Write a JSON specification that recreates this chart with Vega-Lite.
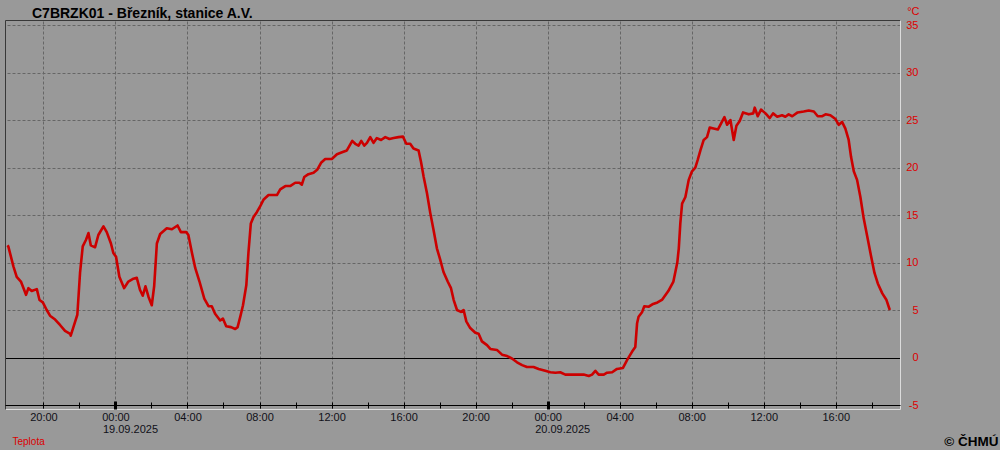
{
 "$schema": "https://vega.github.io/schema/vega-lite/v6.json",
 "width": 895,
 "height": 389,
 "autosize": {"type": "none"},
 "padding": {"left": 5, "top": 20, "right": 100, "bottom": 41},
 "background": "#999999",
 "config": {"view": {"stroke": null}, "font": "Liberation Sans"},
 "title": {"text": "C7BRZK01 - Březník, stanice A.V.", "anchor": "start", "frame": "group", "dx": 27, "offset": -27, "baseline": "alphabetic", "font": "Liberation Sans", "fontSize": 14, "fontWeight": "bold", "color": "#000000"},
 "data": {"values": [
  {"t":"2025-09-18T18:00:00Z","v":11.8},{"t":"2025-09-18T18:03:00Z","v":11.7},{"t":"2025-09-18T18:20:00Z","v":9.6},{"t":"2025-09-18T18:31:00Z","v":8.5},{"t":"2025-09-18T18:45:00Z","v":8.0},{"t":"2025-09-18T18:56:00Z","v":7.1},{"t":"2025-09-18T19:02:00Z","v":6.6},{"t":"2025-09-18T19:10:00Z","v":7.3},{"t":"2025-09-18T19:21:00Z","v":7.0},{"t":"2025-09-18T19:38:00Z","v":7.2},{"t":"2025-09-18T19:47:00Z","v":6.05},{"t":"2025-09-18T19:58:00Z","v":5.8},{"t":"2025-09-18T20:11:00Z","v":5.0},{"t":"2025-09-18T20:22:00Z","v":4.4},{"t":"2025-09-18T20:39:00Z","v":4.0},{"t":"2025-09-18T20:56:00Z","v":3.4},{"t":"2025-09-18T21:12:00Z","v":2.8},{"t":"2025-09-18T21:29:00Z","v":2.5},{"t":"2025-09-18T21:31:00Z","v":2.3},{"t":"2025-09-18T21:46:00Z","v":3.8},{"t":"2025-09-18T21:53:00Z","v":4.5},{"t":"2025-09-18T22:02:00Z","v":8.9},{"t":"2025-09-18T22:11:00Z","v":11.7},{"t":"2025-09-18T22:22:00Z","v":12.4},{"t":"2025-09-18T22:30:00Z","v":13.1},{"t":"2025-09-18T22:38:00Z","v":11.8},{"t":"2025-09-18T22:52:00Z","v":11.6},{"t":"2025-09-18T23:03:00Z","v":12.9},{"t":"2025-09-18T23:20:00Z","v":13.8},{"t":"2025-09-18T23:31:00Z","v":13.2},{"t":"2025-09-18T23:45:00Z","v":12.0},{"t":"2025-09-18T23:53:00Z","v":11.0},
  {"t":"2025-09-19T00:02:00Z","v":10.6},{"t":"2025-09-19T00:13:00Z","v":8.5},{"t":"2025-09-19T00:29:00Z","v":7.3},{"t":"2025-09-19T00:43:00Z","v":8.0},{"t":"2025-09-19T01:00:00Z","v":8.3},{"t":"2025-09-19T01:11:00Z","v":8.4},{"t":"2025-09-19T01:22:00Z","v":7.1},{"t":"2025-09-19T01:31:00Z","v":6.5},{"t":"2025-09-19T01:40:00Z","v":7.5},{"t":"2025-09-19T01:50:00Z","v":6.4},{"t":"2025-09-19T02:01:00Z","v":5.5},{"t":"2025-09-19T02:09:00Z","v":7.5},{"t":"2025-09-19T02:18:00Z","v":12.0},{"t":"2025-09-19T02:29:00Z","v":13.0},{"t":"2025-09-19T02:51:00Z","v":13.6},{"t":"2025-09-19T03:08:00Z","v":13.5},{"t":"2025-09-19T03:27:00Z","v":13.9},{"t":"2025-09-19T03:38:00Z","v":13.2},{"t":"2025-09-19T03:56:00Z","v":13.2},{"t":"2025-09-19T04:03:00Z","v":12.9},{"t":"2025-09-19T04:15:00Z","v":11.0},{"t":"2025-09-19T04:26:00Z","v":9.4},{"t":"2025-09-19T04:40:00Z","v":8.0},{"t":"2025-09-19T04:56:00Z","v":6.2},{"t":"2025-09-19T05:10:00Z","v":5.4},{"t":"2025-09-19T05:21:00Z","v":5.4},{"t":"2025-09-19T05:32:00Z","v":4.6},{"t":"2025-09-19T05:49:00Z","v":3.9},{"t":"2025-09-19T05:58:00Z","v":4.1},{"t":"2025-09-19T06:09:00Z","v":3.3},{"t":"2025-09-19T06:25:00Z","v":3.2},{"t":"2025-09-19T06:39:00Z","v":3.0},{"t":"2025-09-19T06:47:00Z","v":3.2},{"t":"2025-09-19T06:56:00Z","v":4.3},{"t":"2025-09-19T07:05:00Z","v":5.5},{"t":"2025-09-19T07:16:00Z","v":7.6},{"t":"2025-09-19T07:23:00Z","v":11.0},{"t":"2025-09-19T07:31:00Z","v":14.1},{"t":"2025-09-19T07:40:00Z","v":14.8},{"t":"2025-09-19T07:51:00Z","v":15.3},{"t":"2025-09-19T08:02:00Z","v":15.9},{"t":"2025-09-19T08:13:00Z","v":16.6},{"t":"2025-09-19T08:30:00Z","v":17.1},{"t":"2025-09-19T08:58:00Z","v":17.1},{"t":"2025-09-19T09:09:00Z","v":17.7},{"t":"2025-09-19T09:26:00Z","v":18.05},{"t":"2025-09-19T09:42:00Z","v":18.05},{"t":"2025-09-19T09:59:00Z","v":18.4},{"t":"2025-09-19T10:13:00Z","v":18.4},{"t":"2025-09-19T10:21:00Z","v":18.2},{"t":"2025-09-19T10:29:00Z","v":19.0},{"t":"2025-09-19T10:43:00Z","v":19.3},{"t":"2025-09-19T11:00:00Z","v":19.45},{"t":"2025-09-19T11:13:00Z","v":19.8},{"t":"2025-09-19T11:25:00Z","v":20.5},{"t":"2025-09-19T11:39:00Z","v":20.9},{"t":"2025-09-19T12:01:00Z","v":20.9},{"t":"2025-09-19T12:18:00Z","v":21.4},{"t":"2025-09-19T12:35:00Z","v":21.6},{"t":"2025-09-19T12:51:00Z","v":21.8},{"t":"2025-09-19T13:00:00Z","v":22.3},{"t":"2025-09-19T13:09:00Z","v":22.8},{"t":"2025-09-19T13:19:00Z","v":22.5},{"t":"2025-09-19T13:30:00Z","v":22.3},{"t":"2025-09-19T13:39:00Z","v":22.8},{"t":"2025-09-19T13:49:00Z","v":22.3},{"t":"2025-09-19T13:58:00Z","v":22.6},{"t":"2025-09-19T14:09:00Z","v":23.2},{"t":"2025-09-19T14:20:00Z","v":22.6},{"t":"2025-09-19T14:31:00Z","v":23.1},{"t":"2025-09-19T14:45:00Z","v":22.9},{"t":"2025-09-19T14:59:00Z","v":23.2},{"t":"2025-09-19T15:13:00Z","v":23.0},{"t":"2025-09-19T15:27:00Z","v":23.1},{"t":"2025-09-19T15:43:00Z","v":23.2},{"t":"2025-09-19T15:58:00Z","v":23.25},{"t":"2025-09-19T16:09:00Z","v":22.5},{"t":"2025-09-19T16:22:00Z","v":22.5},{"t":"2025-09-19T16:33:00Z","v":22.0},{"t":"2025-09-19T16:50:00Z","v":21.8},{"t":"2025-09-19T16:58:00Z","v":20.6},{"t":"2025-09-19T17:07:00Z","v":19.0},{"t":"2025-09-19T17:18:00Z","v":17.3},{"t":"2025-09-19T17:29:00Z","v":15.2},{"t":"2025-09-19T17:40:00Z","v":13.4},{"t":"2025-09-19T17:51:00Z","v":11.5},{"t":"2025-09-19T18:02:00Z","v":10.3},{"t":"2025-09-19T18:13:00Z","v":9.0},{"t":"2025-09-19T18:27:00Z","v":8.0},{"t":"2025-09-19T18:38:00Z","v":7.3},{"t":"2025-09-19T18:47:00Z","v":6.05},{"t":"2025-09-19T18:58:00Z","v":5.0},{"t":"2025-09-19T19:11:00Z","v":4.8},{"t":"2025-09-19T19:20:00Z","v":5.0},{"t":"2025-09-19T19:29:00Z","v":3.8},{"t":"2025-09-19T19:42:00Z","v":3.1},{"t":"2025-09-19T19:59:00Z","v":2.6},{"t":"2025-09-19T20:10:00Z","v":2.5},{"t":"2025-09-19T20:21:00Z","v":1.7},{"t":"2025-09-19T20:38:00Z","v":1.3},{"t":"2025-09-19T20:49:00Z","v":0.9},{"t":"2025-09-19T21:11:00Z","v":0.8},{"t":"2025-09-19T21:28:00Z","v":0.3},{"t":"2025-09-19T21:45:00Z","v":0.15},{"t":"2025-09-19T22:01:00Z","v":-0.1},{"t":"2025-09-19T22:18:00Z","v":-0.5},{"t":"2025-09-19T22:35:00Z","v":-0.8},{"t":"2025-09-19T22:51:00Z","v":-1.0},{"t":"2025-09-19T23:13:00Z","v":-1.0},{"t":"2025-09-19T23:30:00Z","v":-1.2},{"t":"2025-09-19T23:52:00Z","v":-1.4},
  {"t":"2025-09-20T00:09:00Z","v":-1.55},{"t":"2025-09-20T00:26:00Z","v":-1.6},{"t":"2025-09-20T00:42:00Z","v":-1.55},{"t":"2025-09-20T00:59:00Z","v":-1.8},{"t":"2025-09-20T01:16:00Z","v":-1.8},{"t":"2025-09-20T01:38:00Z","v":-1.8},{"t":"2025-09-20T02:00:00Z","v":-1.8},{"t":"2025-09-20T02:17:00Z","v":-1.95},{"t":"2025-09-20T02:28:00Z","v":-1.8},{"t":"2025-09-20T02:39:00Z","v":-1.4},{"t":"2025-09-20T02:50:00Z","v":-1.8},{"t":"2025-09-20T03:07:00Z","v":-1.8},{"t":"2025-09-20T03:18:00Z","v":-1.6},{"t":"2025-09-20T03:35:00Z","v":-1.55},{"t":"2025-09-20T03:51:00Z","v":-1.2},{"t":"2025-09-20T04:11:00Z","v":-1.1},{"t":"2025-09-20T04:25:00Z","v":-0.25},{"t":"2025-09-20T04:41:00Z","v":0.6},{"t":"2025-09-20T04:52:00Z","v":1.1},{"t":"2025-09-20T04:58:00Z","v":3.6},{"t":"2025-09-20T05:03:00Z","v":4.3},{"t":"2025-09-20T05:15:00Z","v":4.8},{"t":"2025-09-20T05:22:00Z","v":5.4},{"t":"2025-09-20T05:37:00Z","v":5.35},{"t":"2025-09-20T05:49:00Z","v":5.6},{"t":"2025-09-20T06:06:00Z","v":5.8},{"t":"2025-09-20T06:22:00Z","v":6.1},{"t":"2025-09-20T06:42:00Z","v":7.0},{"t":"2025-09-20T06:59:00Z","v":8.0},{"t":"2025-09-20T07:12:00Z","v":10.0},{"t":"2025-09-20T07:17:00Z","v":11.5},{"t":"2025-09-20T07:22:00Z","v":14.1},{"t":"2025-09-20T07:28:00Z","v":16.2},{"t":"2025-09-20T07:39:00Z","v":16.9},{"t":"2025-09-20T07:50:00Z","v":18.7},{"t":"2025-09-20T08:01:00Z","v":19.6},{"t":"2025-09-20T08:12:00Z","v":20.0},{"t":"2025-09-20T08:20:00Z","v":20.8},{"t":"2025-09-20T08:29:00Z","v":21.8},{"t":"2025-09-20T08:40:00Z","v":22.9},{"t":"2025-09-20T08:51:00Z","v":23.2},{"t":"2025-09-20T09:00:00Z","v":24.2},{"t":"2025-09-20T09:13:00Z","v":24.1},{"t":"2025-09-20T09:27:00Z","v":24.0},{"t":"2025-09-20T09:38:00Z","v":24.65},{"t":"2025-09-20T09:49:00Z","v":25.3},{"t":"2025-09-20T09:58:00Z","v":24.5},{"t":"2025-09-20T10:09:00Z","v":25.0},{"t":"2025-09-20T10:20:00Z","v":22.9},{"t":"2025-09-20T10:29:00Z","v":24.4},{"t":"2025-09-20T10:40:00Z","v":24.9},{"t":"2025-09-20T10:51:00Z","v":25.8},{"t":"2025-09-20T11:10:00Z","v":25.6},{"t":"2025-09-20T11:25:00Z","v":25.7},{"t":"2025-09-20T11:30:00Z","v":26.3},{"t":"2025-09-20T11:40:00Z","v":25.4},{"t":"2025-09-20T11:51:00Z","v":26.1},{"t":"2025-09-20T12:06:00Z","v":25.7},{"t":"2025-09-20T12:20:00Z","v":25.2},{"t":"2025-09-20T12:31:00Z","v":25.7},{"t":"2025-09-20T12:45:00Z","v":25.35},{"t":"2025-09-20T13:01:00Z","v":25.5},{"t":"2025-09-20T13:12:00Z","v":25.35},{"t":"2025-09-20T13:23:00Z","v":25.6},{"t":"2025-09-20T13:35:00Z","v":25.4},{"t":"2025-09-20T13:53:00Z","v":25.8},{"t":"2025-09-20T14:13:00Z","v":25.9},{"t":"2025-09-20T14:30:00Z","v":26.0},{"t":"2025-09-20T14:47:00Z","v":25.9},{"t":"2025-09-20T15:00:00Z","v":25.4},{"t":"2025-09-20T15:15:00Z","v":25.4},{"t":"2025-09-20T15:26:00Z","v":25.6},{"t":"2025-09-20T15:42:00Z","v":25.5},{"t":"2025-09-20T15:59:00Z","v":25.1},{"t":"2025-09-20T16:10:00Z","v":24.5},{"t":"2025-09-20T16:21:00Z","v":24.8},{"t":"2025-09-20T16:32:00Z","v":24.1},{"t":"2025-09-20T16:43:00Z","v":22.9},{"t":"2025-09-20T16:51:00Z","v":21.1},{"t":"2025-09-20T17:00:00Z","v":19.6},{"t":"2025-09-20T17:11:00Z","v":18.7},{"t":"2025-09-20T17:22:00Z","v":16.9},{"t":"2025-09-20T17:33:00Z","v":14.65},{"t":"2025-09-20T17:47:00Z","v":12.4},{"t":"2025-09-20T17:58:00Z","v":10.6},{"t":"2025-09-20T18:09:00Z","v":8.9},{"t":"2025-09-20T18:20:00Z","v":7.8},{"t":"2025-09-20T18:35:00Z","v":6.75},{"t":"2025-09-20T18:49:00Z","v":6.05},{"t":"2025-09-20T19:00:00Z","v":5.0}
 ]},
 "resolve": {"axis": {"x": "independent", "y": "independent"}},
 "layer": [
  {
   "mark": {"type": "line", "opacity": 0},
   "encoding": {
    "x": {"field": "t", "type": "temporal",
      "scale": {"type": "utc", "nice": false, "domain": [{"year": 2025, "month": 9, "date": 18, "hours": 17, "minutes": 52, "utc": true}, {"year": 2025, "month": 9, "date": 20, "hours": 19, "minutes": 34, "utc": true}]},
      "axis": {"orient": "top", "title": null, "labels": false, "domain": true, "domainColor": "#383838", "ticks": false, "grid": true, "gridColor": "#666666", "gridDash": [3, 2],
        "values": [{"year":2025,"month":9,"date":18,"hours":20,"utc":true},{"year":2025,"month":9,"date":19,"hours":0,"utc":true},{"year":2025,"month":9,"date":19,"hours":4,"utc":true},{"year":2025,"month":9,"date":19,"hours":8,"utc":true},{"year":2025,"month":9,"date":19,"hours":12,"utc":true},{"year":2025,"month":9,"date":19,"hours":16,"utc":true},{"year":2025,"month":9,"date":19,"hours":20,"utc":true},{"year":2025,"month":9,"date":20,"hours":0,"utc":true},{"year":2025,"month":9,"date":20,"hours":4,"utc":true},{"year":2025,"month":9,"date":20,"hours":8,"utc":true},{"year":2025,"month":9,"date":20,"hours":12,"utc":true},{"year":2025,"month":9,"date":20,"hours":16,"utc":true}]}},
    "y": {"field": "v", "type": "quantitative",
      "scale": {"domain": [-5.42, 35.53], "nice": false, "zero": false},
      "axis": {"orient": "left", "title": null, "labels": false, "ticks": false, "grid": false, "domain": true, "domainColor": "#383838"}}
   }
  },
  {
   "mark": {"type": "line", "opacity": 0},
   "encoding": {
    "x": {"field": "t", "type": "temporal",
      "scale": {"type": "utc", "nice": false, "domain": [{"year": 2025, "month": 9, "date": 18, "hours": 17, "minutes": 52, "utc": true}, {"year": 2025, "month": 9, "date": 20, "hours": 19, "minutes": 34, "utc": true}]},
      "axis": {"orient": "bottom", "title": "Teplota", "titleX": 7, "titleY": 35, "titleAlign": "left", "titleBaseline": "alphabetic", "titleColor": "#dd0000", "titleFontSize": 10, "titleFontWeight": "normal", "labels": false, "ticks": false, "grid": false, "domain": true, "domainColor": "#dcdcdc", "values": []}},
    "y": {"field": "v", "type": "quantitative",
      "scale": {"domain": [-5.42, 35.53], "nice": false, "zero": false}, "axis": null}
   }
  },
  {
   "mark": {"type": "line", "opacity": 0},
   "encoding": {
    "x": {"field": "t", "type": "temporal",
      "scale": {"type": "utc", "nice": false, "domain": [{"year": 2025, "month": 9, "date": 18, "hours": 17, "minutes": 52, "utc": true}, {"year": 2025, "month": 9, "date": 20, "hours": 19, "minutes": 34, "utc": true}]},
      "axis": {"orient": "top", "offset": -385, "title": null, "labels": false, "domain": false, "grid": false, "ticks": true, "tickColor": "#000000", "tickSize": 3, "tickWidth": 1,
        "values": [{"year":2025,"month":9,"date":18,"hours":20,"utc":true},{"year":2025,"month":9,"date":18,"hours":22,"utc":true},{"year":2025,"month":9,"date":19,"hours":2,"utc":true},{"year":2025,"month":9,"date":19,"hours":4,"utc":true},{"year":2025,"month":9,"date":19,"hours":6,"utc":true},{"year":2025,"month":9,"date":19,"hours":8,"utc":true},{"year":2025,"month":9,"date":19,"hours":10,"utc":true},{"year":2025,"month":9,"date":19,"hours":12,"utc":true},{"year":2025,"month":9,"date":19,"hours":14,"utc":true},{"year":2025,"month":9,"date":19,"hours":16,"utc":true},{"year":2025,"month":9,"date":19,"hours":18,"utc":true},{"year":2025,"month":9,"date":19,"hours":20,"utc":true},{"year":2025,"month":9,"date":19,"hours":22,"utc":true},{"year":2025,"month":9,"date":20,"hours":2,"utc":true},{"year":2025,"month":9,"date":20,"hours":4,"utc":true},{"year":2025,"month":9,"date":20,"hours":6,"utc":true},{"year":2025,"month":9,"date":20,"hours":8,"utc":true},{"year":2025,"month":9,"date":20,"hours":10,"utc":true},{"year":2025,"month":9,"date":20,"hours":12,"utc":true},{"year":2025,"month":9,"date":20,"hours":14,"utc":true},{"year":2025,"month":9,"date":20,"hours":16,"utc":true},{"year":2025,"month":9,"date":20,"hours":18,"utc":true}]}},
    "y": {"field": "v", "type": "quantitative",
      "scale": {"domain": [-5.42, 35.53], "nice": false, "zero": false}, "axis": null}
   }
  },
  {
   "mark": {"type": "line", "color": "#cc0000", "strokeWidth": 2.6, "strokeJoin": "round"},
   "encoding": {
    "x": {"field": "t", "type": "temporal",
      "scale": {"type": "utc", "nice": false, "domain": [{"year": 2025, "month": 9, "date": 18, "hours": 17, "minutes": 52, "utc": true}, {"year": 2025, "month": 9, "date": 20, "hours": 19, "minutes": 34, "utc": true}]},
      "axis": {"orient": "bottom", "offset": -4, "grid": false, "domain": true, "domainColor": "#000000", "ticks": true, "tickColor": "#000000", "tickSize": 3, "tickWidth": 1,
        "values": [{"year":2025,"month":9,"date":18,"hours":20,"utc":true},{"year":2025,"month":9,"date":18,"hours":22,"utc":true},{"year":2025,"month":9,"date":19,"hours":0,"utc":true},{"year":2025,"month":9,"date":19,"hours":2,"utc":true},{"year":2025,"month":9,"date":19,"hours":4,"utc":true},{"year":2025,"month":9,"date":19,"hours":6,"utc":true},{"year":2025,"month":9,"date":19,"hours":8,"utc":true},{"year":2025,"month":9,"date":19,"hours":10,"utc":true},{"year":2025,"month":9,"date":19,"hours":12,"utc":true},{"year":2025,"month":9,"date":19,"hours":14,"utc":true},{"year":2025,"month":9,"date":19,"hours":16,"utc":true},{"year":2025,"month":9,"date":19,"hours":18,"utc":true},{"year":2025,"month":9,"date":19,"hours":20,"utc":true},{"year":2025,"month":9,"date":19,"hours":22,"utc":true},{"year":2025,"month":9,"date":20,"hours":0,"utc":true},{"year":2025,"month":9,"date":20,"hours":2,"utc":true},{"year":2025,"month":9,"date":20,"hours":4,"utc":true},{"year":2025,"month":9,"date":20,"hours":6,"utc":true},{"year":2025,"month":9,"date":20,"hours":8,"utc":true},{"year":2025,"month":9,"date":20,"hours":10,"utc":true},{"year":2025,"month":9,"date":20,"hours":12,"utc":true},{"year":2025,"month":9,"date":20,"hours":14,"utc":true},{"year":2025,"month":9,"date":20,"hours":16,"utc":true},{"year":2025,"month":9,"date":20,"hours":18,"utc":true}],
        "labelExpr": "utchours(datum.value) % 4 != 0 ? '' : utcFormat(datum.value, '%H:%M')",
        "labelBaseline": "top", "labelPadding": 3, "labelColor": "#101018", "labelFontSize": 11, "labelOverlap": false, "labelFlush": false, "labelBound": false,
        "title": "© ČHMÚ", "titleX": 993, "titleY": 40, "titleAlign": "right", "titleBaseline": "alphabetic", "titleColor": "#000000", "titleFontSize": 13.5, "titleFontWeight": "bold", "zindex": 1}},
    "y": {"field": "v", "type": "quantitative",
      "scale": {"domain": [-5.42, 35.53], "nice": false, "zero": false},
      "axis": {"orient": "right", "values": [-5, 0, 5, 10, 15, 20, 25, 30, 35],
        "labelExpr": "datum.value < 0 ? '-' + abs(datum.value) : '' + datum.value",
        "title": "°C", "titleAngle": 0, "titleX": 19, "titleY": -6, "titleAlign": "right", "titleBaseline": "alphabetic", "titleColor": "#dd0000", "titleFontSize": 11, "titleFontWeight": "normal",
        "labelColor": "#dd0000", "labelFontSize": 11, "labelAlign": "right", "labelBaseline": "middle", "labelPadding": 18, "labelOverlap": false, "labelFlush": false, "labelBound": false,
        "ticks": false, "domain": true, "domainColor": "#dcdcdc",
        "grid": true, "gridColor": "#666666", "gridDash": [3, 2]}}
   }
  },
  {
   "mark": {"type": "line", "opacity": 0},
   "encoding": {
    "x": {"field": "t", "type": "temporal",
      "scale": {"type": "utc", "nice": false, "domain": [{"year": 2025, "month": 9, "date": 18, "hours": 17, "minutes": 52, "utc": true}, {"year": 2025, "month": 9, "date": 20, "hours": 19, "minutes": 34, "utc": true}]},
      "axis": {"orient": "bottom", "offset": -4, "title": null, "domain": false, "grid": false, "ticks": true, "tickColor": "#000000", "tickSize": 4, "tickWidth": 3,
        "values": [{"year":2025,"month":9,"date":19,"hours":0,"utc":true},{"year":2025,"month":9,"date":20,"hours":0,"utc":true}],
        "labelExpr": "utcFormat(datum.value, '%d.%m.%Y')", "labelAlign": "left", "labelOffset": -13, "labelBaseline": "top", "labelPadding": 14, "labelColor": "#101018", "labelFontSize": 11, "labelOverlap": false, "labelFlush": false, "labelBound": false, "zindex": 1}},
    "y": {"field": "v", "type": "quantitative",
      "scale": {"domain": [-5.42, 35.53], "nice": false, "zero": false},
      "axis": {"orient": "left", "values": [0], "title": null, "labels": false, "ticks": false, "domain": false, "grid": true, "gridColor": "#000000", "gridWidth": 1}}
   }
  },
  {
   "mark": {"type": "line", "opacity": 0},
   "encoding": {
    "x": {"field": "t", "type": "temporal",
      "scale": {"type": "utc", "nice": false, "domain": [{"year": 2025, "month": 9, "date": 18, "hours": 17, "minutes": 52, "utc": true}, {"year": 2025, "month": 9, "date": 20, "hours": 19, "minutes": 34, "utc": true}]},
      "axis": {"orient": "top", "offset": -385, "title": null, "labels": false, "domain": false, "grid": false, "ticks": true, "tickColor": "#000000", "tickSize": 4, "tickWidth": 3,
        "values": [{"year":2025,"month":9,"date":19,"hours":0,"utc":true},{"year":2025,"month":9,"date":20,"hours":0,"utc":true}], "zindex": 1}},
    "y": {"field": "v", "type": "quantitative",
      "scale": {"domain": [-5.42, 35.53], "nice": false, "zero": false}, "axis": null}
   }
  }
 ]
}
